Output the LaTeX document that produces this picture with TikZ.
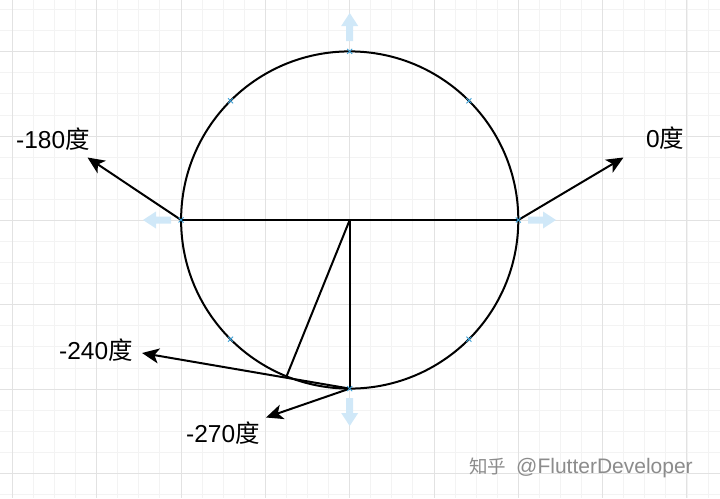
\documentclass[tikz,border=0pt]{standalone}
\usepackage{fontspec}
\setmainfont{Liberation Sans}
\newfontfamily\cjk{Noto Sans CJK SC}
\usetikzlibrary{arrows.meta}
\definecolor{gridminor}{RGB}{243,243,243}
\definecolor{gridmajor}{RGB}{226,226,226}
\definecolor{handlecol}{RGB}{208,232,248}
\definecolor{xmarkcol}{RGB}{60,160,215}
\definecolor{wmcol}{RGB}{140,140,140}
\tikzset{
  edge/.style={line width=2pt, black},
  ptr/.style={line width=2pt, black, -{Stealth[length=17pt,width=15pt,inset=4.5pt]}},
  lbl/.style={font=\fontsize{24.5}{29}\selectfont, inner sep=0pt, anchor=base west},
  handlearrow/.pic={\fill[handlecol] (0,-3.5) -- (15,-3.5) -- (15,-8.5) -- (28,0) -- (15,8.5) -- (15,3.5) -- (0,3.5) -- cycle;},
  xmk/.pic={\draw[xmarkcol, line width=0.9pt] (-2.5,-2.5) -- (2.5,2.5) (-2.5,2.5) -- (2.5,-2.5);}
}
\begin{document}
\begin{tikzpicture}[x=1pt,y=-1pt]
\useasboundingbox (0,0) rectangle (720,498);
\fill[white] (0,0) rectangle (720,498);
% grid
\foreach \i in {0,...,34} \draw[gridminor, line width=0.9pt] ({12.3+\i*21.083},0) -- ++(0,498);
\foreach \j in {0,...,23} \draw[gridminor, line width=0.9pt] (0,{9.54+\j*21.083}) -- ++(720,0);
\foreach \i in {0,...,8} \draw[gridmajor, line width=0.9pt] ({12.3+\i*84.33},0) -- ++(0,498);
\foreach \j in {0,...,5} \draw[gridmajor, line width=0.9pt] (0,{51.7+\j*84.33}) -- ++(720,0);
% hover handles
\path (349.7,41) pic[rotate=90] {handlearrow};
\path (171,220) pic[rotate=180] {handlearrow};
\path (528,220) pic {handlearrow};
\path (349.7,398) pic[rotate=270] {handlearrow};
% circle
\node[circle, draw, line width=2pt, minimum size=337.2pt, inner sep=0pt, outer sep=0pt] (circ) at (349.7,220) {};
% arrow tips
\coordinate (t180) at (87.5,157.5);
\coordinate (t0) at (623.5,157.5);
\coordinate (t240) at (142,353);
\coordinate (t270) at (266,417.5);
% lines
\draw[edge] (circ.west) -- (circ.east);
\draw[edge] (circ.center) -- (circ.south);
\draw[edge] (circ.center) -- (circ.248);
\draw[ptr] (circ.west) -- (t180);
\draw[ptr] (circ.east) -- (t0);
\draw[ptr] (circ.south) -- (t240);
\draw[ptr] (circ.south) -- (t270);
% connection marks
\foreach \a in {0,45,90,135,180,225,270,315} \path (circ.\a) pic {xmk};
% labels
\node[lbl] (l180) at (16,148) {-180{\cjk 度}};
\node[lbl] (l0) at (646,147) {0{\cjk 度}};
\node[lbl] (l240) at (59,359.5) {-240{\cjk 度}};
\node[lbl] (l270) at (186,442) {-270{\cjk 度}};
% watermark
\node[anchor=base west, inner sep=0pt, text=wmcol] (wm) at (469,473) {{\cjk\fontsize{18.5}{20}\selectfont 知乎}\hspace{10pt}{\fontsize{21}{24}\selectfont @FlutterDeveloper}};
\end{tikzpicture}
\end{document}
